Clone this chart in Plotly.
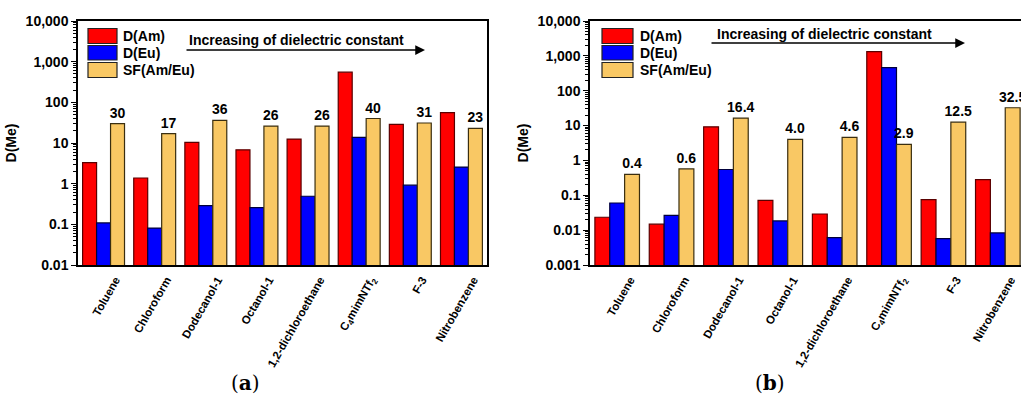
import plotly.graph_objects as go

categories = ["Toluene", "Chloroform", "Dodecanol-1", "Octanol-1", "1,2-dichloroethane",
              "C<sub>4</sub>mimNTf<sub>2</sub>", "F-3", "Nitrobenzene"]

# Panel (a)
a_dam = [3.3, 1.38, 10.4, 6.8, 12.5, 553, 28.7, 56]
a_deu = [0.108, 0.081, 0.29, 0.257, 0.49, 13.8, 0.92, 2.56]
a_sf = [30, 17, 36, 26, 26, 40, 31, 23]
a_sf_labels = ["30", "17", "36", "26", "26", "40", "31", "23"]

# Panel (b)
b_dam = [0.0234, 0.0148, 9.2, 0.071, 0.029, 1330, 0.075, 0.28]
b_deu = [0.06, 0.0267, 0.55, 0.0184, 0.0061, 460, 0.0057, 0.0083]
b_sf = [0.4, 0.57, 16.4, 4.0, 4.6, 2.9, 12.5, 32.5]
b_sf_labels = ["0.4", "0.6", "16.4", "4.0", "4.6", "2.9", "12.5", "32.5"]

series_names = ["D(Am)", "D(Eu)", "SF(Am/Eu)"]
colors = ["#FF0000", "#0000FF", "#F9C864"]
edge = ["#5a0000", "#00003a", "#3a2e10"]

FONT = "Liberation Sans"
W, H = 1021, 401
ML, MR, MT, MB = 78, 0, 21, 136
PW = W - ML - MR
PH = H - MT - MB

def px2paper(px):
    return (px - ML) / PW

def py2paper(py):
    return (H - MB - py) / PH

fig = go.Figure()

panels = [
    ("x", "y", [a_dam, a_deu, a_sf], a_sf_labels),
    ("x2", "y2", [b_dam, b_deu, b_sf], b_sf_labels),
]
for xa, ya, vals, labels in panels:
    for i, (name, v) in enumerate(zip(series_names, vals)):
        fig.add_trace(go.Bar(
            x=list(range(len(categories))), y=v, name=name,
            xaxis=xa, yaxis=ya, showlegend=False,
            marker=dict(color=colors[i], line=dict(color=edge[i], width=1.2)),
            text=labels if i == 2 else None,
            textposition="outside" if i == 2 else None,
            constraintext="none",
            textfont=dict(family=FONT, size=14, color="black", weight="bold"),
            cliponaxis=True,
        ))

X0A, X1A = 78, 487
X0B, X1B = 590, 1021
dom_a = [px2paper(X0A), px2paper(X1A)]
dom_b = [px2paper(X0B), 1.0]

def minor_vals(lo, hi):
    out = []
    for e in range(lo, hi):
        for m in range(2, 10):
            out.append(m * 10 ** e)
    return out

def yaxis(lo, hi, anchor, mirror):
    vals = [10 ** e for e in range(lo, hi + 1)]
    txt = [f"{int(v):,}" if v >= 1 else f"{v:g}" for v in vals]
    return dict(
        type="log", range=[lo, hi], anchor=anchor,
        tickmode="array", tickvals=vals, ticktext=txt,
        ticks="outside", ticklen=5, tickwidth=1.2, tickcolor="black",
        minor=dict(tickmode="array", tickvals=minor_vals(lo, hi), ticks="outside",
                   ticklen=3, tickwidth=1, tickcolor="black", showgrid=False),
        showline=True, linecolor="black", linewidth=1.5, mirror=mirror,
        showgrid=False, zeroline=False,
        tickfont=dict(family=FONT, size=14, color="black", weight="bold"),
        title=dict(text="<b>D(Me)</b>", font=dict(family=FONT, size=14, color="black"),
                   standoff=6),
    )

def xaxis(dom, anchor, rng, shift):
    return dict(
        domain=dom, anchor=anchor, range=rng,
        tickmode="array", tickvals=list(range(len(categories))), ticktext=categories,
        tickangle=-60, ticks="", ticklabelshift=shift, ticklabelstandoff=2,
        tickfont=dict(family=FONT, size=11.5, color="black", weight="bold"),
        showline=True, linecolor="black", linewidth=1.5, mirror=True,
        showgrid=False, zeroline=False,
    )

# right panel is cut at the page edge: 8 categories would span 590..1025 px
pitch_b = (1025 - X0B) / 8.0
xr_b_end = -0.5 + (X1B - X0B) / pitch_b

fig.update_layout(
    width=W, height=H,
    margin=dict(l=ML, r=MR, t=MT, b=MB, pad=0),
    paper_bgcolor="white", plot_bgcolor="white",
    barmode="group", bargap=0.18, bargroupgap=0,
    showlegend=False,
    xaxis=xaxis(dom_a, "y", [-0.5, 7.5], 12),
    yaxis=yaxis(-2, 4, "x", True),
    xaxis2=xaxis(dom_b, "y2", [-0.5, xr_b_end], 13),
    yaxis2=yaxis(-3, 4, "x2", False),
    font=dict(family=FONT, color="black"),
)

ann_font = dict(family=FONT, size=14, color="black", weight="bold")
annotations = []
shapes = []

# Legend boxes (drawn as shapes + text)
leg_rows = [(28.5, 43.5), (45.5, 60.0), (62.5, 77.5)]
for sw_x0, sw_x1, tx in [(88, 117, 121), (602, 633, 638)]:
    for i, (y0, y1) in enumerate(leg_rows):
        shapes.append(dict(type="rect", xref="paper", yref="paper",
                           x0=px2paper(sw_x0), x1=px2paper(sw_x1),
                           y0=py2paper(y1), y1=py2paper(y0),
                           fillcolor=colors[i], line=dict(color="#222222", width=1.2)))
        annotations.append(dict(xref="paper", yref="paper", x=px2paper(tx),
                                y=py2paper((y0 + y1) / 2), text=series_names[i],
                                showarrow=False, xanchor="left", yanchor="middle",
                                font=ann_font))

# Arrows and text
for xd, yd, x_head, x_tail, x_text, y_line, y_text, x0, x1 in [
    ("x domain", "y domain", 425, 185, 296, 50, 40, X0A, X1A),
    ("x2 domain", "y2 domain", 965, 710, 824, 43, 34, X0B, X1B),
]:
    wdom = x1 - x0
    annotations.append(dict(
        xref=xd, yref=yd, axref=xd, ayref=yd,
        x=(x_head - x0) / wdom, y=py2paper(y_line),
        ax=(x_tail - x0) / wdom, ay=py2paper(y_line),
        showarrow=True, arrowhead=2, arrowsize=1.5, arrowwidth=1.3, arrowcolor="black", text="",
    ))
    annotations.append(dict(
        xref=xd, yref=yd, x=(x_text - x0) / wdom, y=py2paper(y_text),
        text="Increasing of dielectric constant", showarrow=False,
        font=ann_font, xanchor="center", yanchor="middle",
    ))

serif = dict(family="DejaVu Serif", size=20, color="black")
annotations.append(dict(xref="paper", yref="paper", x=px2paper(245), y=py2paper(383),
                        text="(<b>a</b>)", showarrow=False, font=serif,
                        xanchor="center", yanchor="middle"))
annotations.append(dict(xref="paper", yref="paper", x=px2paper(770), y=py2paper(383),
                        text="(<b>b</b>)", showarrow=False, font=serif,
                        xanchor="center", yanchor="middle"))
fig.update_layout(annotations=annotations, shapes=shapes)

fig.write_html("out.html", config={"displayModeBar": False},
               post_script="document.body.style.margin='0';document.body.style.overflow='hidden';")
